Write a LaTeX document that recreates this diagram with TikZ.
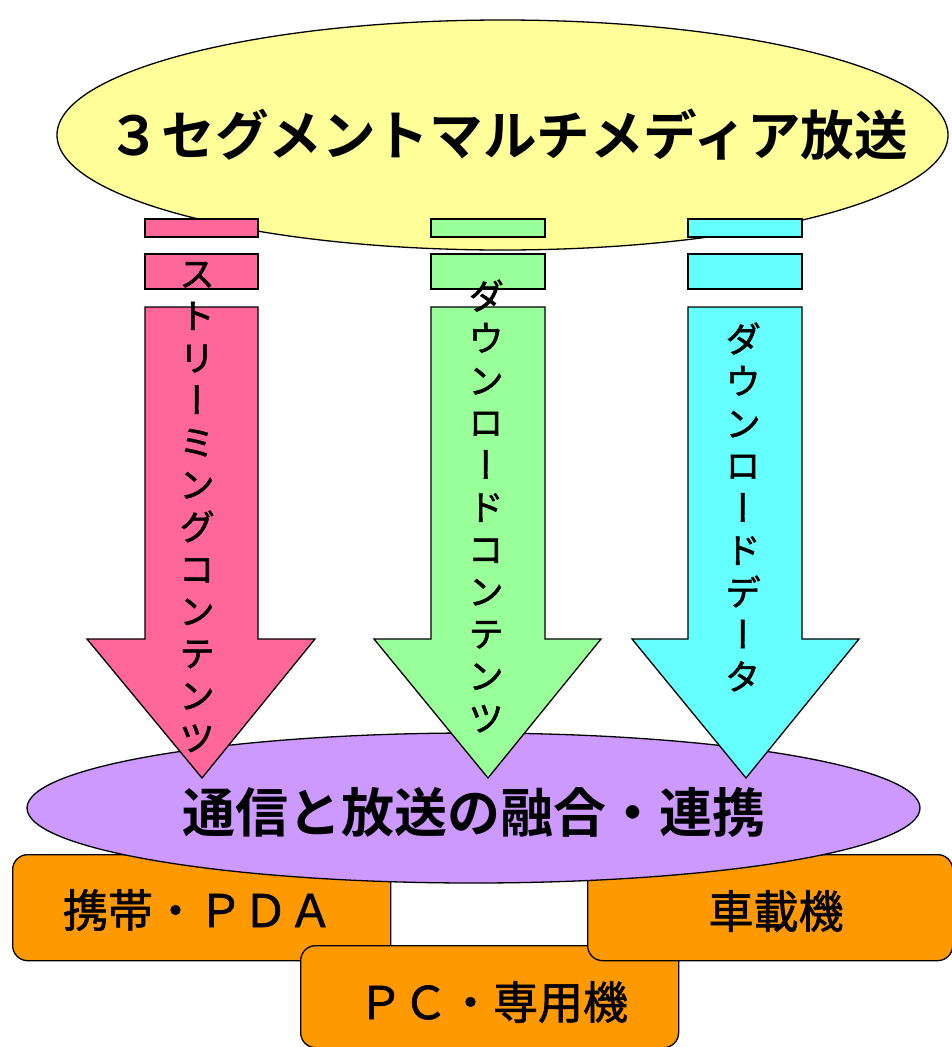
\documentclass[tikz,border=0pt]{standalone}
\usepackage{fontspec}
\usetikzlibrary{shapes.geometric}
\newfontfamily\jp[FakeBold=1.5]{Noto Sans CJK JP}
\newfontfamily\jpb{Noto Sans CJK JP Bold}
\newfontfamily\vjp[RawFeature=+vert, FakeBold=1.5]{Noto Sans CJK JP}
\definecolor{cpink}{HTML}{FF6699}
\definecolor{cgreen}{HTML}{99FF99}
\definecolor{ccyan}{HTML}{66FFFF}
\definecolor{cyellow}{HTML}{FFFF99}
\definecolor{cpurple}{HTML}{CC99FF}
\definecolor{corange}{HTML}{FF9900}
\tikzset{
  outl/.style={draw=black, line width=1.3pt},
  devbox/.style={outl, fill=corange, rounded corners=15pt, inner sep=0pt, anchor=north west},
  bigell/.style={outl, ellipse, inner sep=0pt},
  devtext/.style={font=\jp\fontsize{45}{50}\selectfont, inner sep=0pt},
  vtext/.style={align=center, inner sep=0pt, font=\vjp\fontsize{36}{42.2}\selectfont},
}
\begin{document}
\begin{tikzpicture}[x=1pt,y=-1pt]
\useasboundingbox (0,0) rectangle (952,1047);
% device boxes
\node[devbox, minimum width=378pt, minimum height=106pt] (mob) at (12,854) {};
\node[devbox, minimum width=378pt, minimum height=102pt] (pc) at (300,945) {};
\node[devbox, minimum width=365pt, minimum height=106pt] (car) at (587,854) {};
% bottom ellipse
\node[bigell, fill=cpurple, minimum width=893pt, minimum height=150pt] (fusion) at (473.5,808) {};
% top ellipse
\node[bigell, fill=cyellow, minimum width=891pt, minimum height=230pt] (bcast) at (502.5,135) {};
% arrows
\foreach \c/\l/\r/\hl/\hr/\t in {cpink/145/258/87/315/202, cgreen/431/545/374/601/488, ccyan/688/802/632/859/746}{
  \draw[outl, fill=\c] (\l,219) rectangle (\r,237);
  \draw[outl, fill=\c] (\l,254) rectangle (\r,289);
  \draw[outl, fill=\c, line join=miter] (\l,307) -- (\r,307) -- (\r,639) -- (\hr,639) -- (\t,778) -- (\hl,639) -- (\l,639) -- cycle;
}
% texts
\node[font=\jpb\fontsize{53.6}{58}\selectfont, inner sep=0pt] (bcasttxt) at (508,135) {３セグメントマルチメディア放送};
\node[font=\jpb\fontsize{53}{56}\selectfont, inner sep=0pt] (fusiontxt) at (473.5,812) {通信と放送の融合・連携};
\node[devtext] (mobtxt) at (198,910) {携帯・ＰＤＡ};
\node[devtext] (cartxt) at (776,911) {車載機};
\node[devtext] (pctxt) at (493,1002) {ＰＣ・専用機};
\node[vtext] (s1) at (197,507) {ス\\ト\\リ\\ー\\ミ\\ン\\グ\\コ\\ン\\テ\\ン\\ツ};
\node[vtext] (s2) at (486,506) {ダ\\ウ\\ン\\ロ\\ー\\ド\\コ\\ン\\テ\\ン\\ツ};
\node[vtext] (s3) at (743,507) {ダ\\ウ\\ン\\ロ\\ー\\ド\\デ\\ー\\タ};
\end{tikzpicture}
\end{document}
